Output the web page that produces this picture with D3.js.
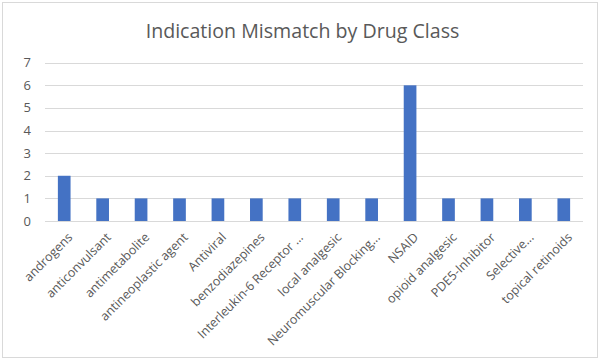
<!DOCTYPE html>
<html>
<head>
<meta charset="utf-8">
<script src="https://cdn.jsdelivr.net/npm/d3@7"></script>
<style>
  body { margin: 0; background: #fff; }
  text { font-family: "Open Sans", "Liberation Sans", sans-serif; fill: #595959; }
</style>
</head>
<body>
<div id="chart"></div>
<script>
const categories = [
  "androgens", "anticonvulsant", "antimetabolite", "antineoplastic agent",
  "Antiviral", "benzodiazepines", "Interleukin-6 Receptor ...", "local analgesic",
  "Neuromuscular Blocking...", "NSAID", "opioid analgesic", "PDE5-Inhibitor",
  "Selective...", "topical retinoids"
];
const counts = [2, 1, 1, 1, 1, 1, 1, 1, 1, 6, 1, 1, 1, 1];
const yTicks = [0, 1, 2, 3, 4, 5, 6, 7];
const title = "Indication Mismatch by Drug Class";

const width = 600, height = 360;
const margin = { top: 62.7, right: 17, bottom: 139, left: 45 };

const svg = d3.select("#chart").append("svg")
  .attr("width", width)
  .attr("height", height);

// 외곽 테두리
svg.append("rect")
  .attr("x", 2.5).attr("y", 2.5)
  .attr("width", width - 5).attr("height", height - 5)
  .attr("fill", "#fff")
  .attr("stroke", "#d9d9d9");

svg.append("text")
  .attr("x", 302.5)
  .attr("y", 38)
  .attr("text-anchor", "middle")
  .style("font-size", "19.6px")
  .text(title);

const x = d3.scaleBand()
  .domain(categories)
  .range([margin.left, width - margin.right])
  .paddingInner(0.67)
  .paddingOuter(0.335);

const y = d3.scaleLinear()
  .domain([0, 7])
  .range([height - margin.bottom, margin.top]);

// 그리드 라인
svg.append("g")
  .selectAll("line")
  .data(yTicks)
  .enter().append("line")
  .attr("x1", margin.left)
  .attr("x2", width - margin.right)
  .attr("y1", d => Math.round(y(d)) + 0.5)
  .attr("y2", d => Math.round(y(d)) + 0.5)
  .attr("stroke", "#d9d9d9")
  .attr("stroke-width", 1.2);

svg.append("g")
  .selectAll("text")
  .data(yTicks)
  .enter().append("text")
  .attr("x", 31)
  .attr("y", d => y(d))
  .attr("dy", "0.35em")
  .attr("text-anchor", "end")
  .style("font-size", "13px")
  .text(d => d);

svg.append("g")
  .selectAll("rect")
  .data(counts)
  .enter().append("rect")
  .attr("x", (d, i) => x(categories[i]))
  .attr("width", x.bandwidth())
  .attr("y", d => y(d))
  .attr("height", d => y(0) - y(d))
  .attr("fill", "#4472c4");

// 축 라인
svg.append("line")
  .attr("x1", margin.left)
  .attr("x2", width - margin.right)
  .attr("y1", Math.round(y(0)) + 0.5)
  .attr("y2", Math.round(y(0)) + 0.5)
  .attr("stroke", "#d9d9d9")
  .attr("stroke-width", 1.2);

svg.append("g")
  .selectAll("text")
  .data(categories)
  .enter().append("text")
  .attr("transform", d => `translate(${x(d) + x.bandwidth() / 2 + 6},${y(0) + 14}) rotate(-45)`)
  .attr("text-anchor", "end")
  .attr("dy", "0.35em")
  .style("font-size", "12.5px")
  .text(d => d);
</script>
</body>
</html>
